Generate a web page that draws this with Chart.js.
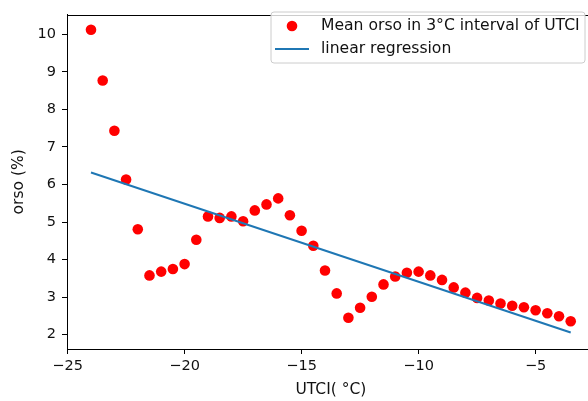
<!DOCTYPE html>
<html>
<head>
<meta charset="utf-8">
<script src="https://cdn.jsdelivr.net/npm/chart.js@4.4.1/dist/chart.umd.min.js"></script>
<style>
  html, body { margin: 0; padding: 0; background: #fff; overflow: hidden; }
  #wrap { width: 588px; height: 401px; overflow: hidden; }
  canvas { display: block; }
</style>
</head>
<body>
<div id="wrap"><canvas id="c" width="600" height="401"></canvas></div>
<script>
// UTCI bin centres (°C)
const utci = [-24, -23.5, -23, -22.5, -22, -21.5, -21, -20.5, -20, -19.5, -19, -18.5, -18, -17.5,
  -17, -16.5, -16, -15.5, -15, -14.5, -14, -13.5, -13, -12.5, -12, -11.5, -11, -10.5,
  -10, -9.5, -9, -8.5, -8, -7.5, -7, -6.5, -6, -5.5, -5, -4.5, -4, -3.5];
// Mean orso (%) in each interval
const orso = [10.12, 8.77, 7.43, 6.13, 4.81, 3.58, 3.68, 3.75, 3.88, 4.53, 5.15, 5.11, 5.15, 5.02,
  5.31, 5.47, 5.63, 5.18, 4.77, 4.37, 3.71, 3.10, 2.45, 2.72, 3.01, 3.34, 3.55, 3.65,
  3.68, 3.58, 3.46, 3.26, 3.12, 2.98, 2.91, 2.83, 2.77, 2.73, 2.65, 2.57, 2.49, 2.36];
// Linear regression endpoints
const regX = [-24, -3.5];
const regY = [6.32, 2.06];
const xTicks = [-25, -20, -15, -10, -5];
const yTicks = [2, 3, 4, 5, 6, 7, 8, 9, 10];

const FONT = "'DejaVu Sans', sans-serif";
const TXT = '#111';

const framePlugin = {
  id: 'frame',
  afterDatasetsDraw(chart) {
    const { ctx, chartArea: a } = chart;
    ctx.save();
    ctx.strokeStyle = '#000';
    ctx.lineWidth = 1;
    ctx.strokeRect(Math.round(a.left) + 0.5, Math.round(a.top) + 0.5,
                   Math.round(a.right - a.left), Math.round(a.bottom - a.top));
    ctx.restore();
  }
};

const legendPlugin = {
  id: 'mplLegend',
  afterDraw(chart) {
    const ctx = chart.ctx;
    const ds = chart.data.datasets;
    const bx = 271, by = 12, bw = 314, bh = 51, r = 3;
    ctx.save();
    ctx.beginPath();
    ctx.moveTo(bx + r, by);
    ctx.arcTo(bx + bw, by, bx + bw, by + bh, r);
    ctx.arcTo(bx + bw, by + bh, bx, by + bh, r);
    ctx.arcTo(bx, by + bh, bx, by, r);
    ctx.arcTo(bx, by, bx + bw, by, r);
    ctx.closePath();
    ctx.fillStyle = 'rgba(255,255,255,0.8)';
    ctx.fill();
    ctx.strokeStyle = '#cccccc';
    ctx.lineWidth = 1;
    ctx.stroke();

    ctx.font = '15.6px ' + FONT;
    ctx.textBaseline = 'middle';
    ctx.textAlign = 'left';
    const pts = ds.find(d => d.type === 'scatter');
    const ln = ds.find(d => d.type === 'line');
    ctx.beginPath();
    ctx.arc(292, 26, 5.3, 0, Math.PI * 2);
    ctx.fillStyle = pts.backgroundColor;
    ctx.fill();
    ctx.fillStyle = TXT;
    ctx.fillText(pts.label, 321, 26);
    ctx.beginPath();
    ctx.moveTo(275, 49);
    ctx.lineTo(309, 49);
    ctx.strokeStyle = ln.borderColor;
    ctx.lineWidth = 2;
    ctx.stroke();
    ctx.fillText(ln.label, 321, 49);
    ctx.restore();
  }
};

new Chart(document.getElementById('c'), {
  data: {
    datasets: [
      {
        type: 'line',
        label: 'linear regression',
        data: regX.map((x, i) => ({ x, y: regY[i] })),
        borderColor: '#1f77b4',
        borderWidth: 2,
        pointRadius: 0,
        fill: false,
        order: 0
      },
      {
        type: 'scatter',
        label: 'Mean orso in 3°C interval of UTCI',
        data: utci.map((x, i) => ({ x, y: orso[i] })),
        backgroundColor: '#ff0000',
        borderColor: '#ff0000',
        borderWidth: 0,
        pointRadius: 5.3,
        order: 1
      }
    ]
  },
  options: {
    responsive: false,
    animation: false,
    devicePixelRatio: 1,
    layout: { padding: { left: 0, top: 4, right: 3, bottom: 0 } },
    plugins: {
      legend: { display: false },
      tooltip: { enabled: false }
    },
    scales: {
      x: {
        type: 'linear',
        position: 'bottom',
        min: -25.025,
        max: -2.475,
        afterBuildTicks(s) { s.ticks = xTicks.map(v => ({ value: v })); },
        afterFit(s) { s.height = 52; },
        grid: { display: true, drawOnChartArea: false, drawTicks: true, tickLength: 5, color: '#000', tickWidth: 1 },
        border: { display: true, color: '#000', width: 1 },
        ticks: {
          color: TXT,
          font: { family: FONT, size: 14.5 },
          padding: 4,
          maxRotation: 0,
          callback: v => (v < 0 ? '\u2212' + Math.abs(v) : String(v))
        },
        title: {
          display: true,
          text: 'UTCI( °C)',
          color: TXT,
          font: { family: FONT, size: 15.5 },
          padding: { top: 0, bottom: 2 }
        }
      },
      y: {
        type: 'linear',
        position: 'left',
        min: 1.62,
        max: 10.52,
        afterBuildTicks(s) { s.ticks = yTicks.map(v => ({ value: v })); },
        afterFit(s) { s.width = 67; },
        grid: { display: true, drawOnChartArea: false, drawTicks: true, tickLength: 5, color: '#000', tickWidth: 1 },
        border: { display: true, color: '#000', width: 1 },
        ticks: {
          color: TXT,
          font: { family: FONT, size: 14.5 },
          padding: 6
        },
        title: {
          display: true,
          text: 'orso (%)',
          color: TXT,
          font: { family: FONT, size: 15.5 },
          padding: { top: 10, bottom: 0 }
        }
      }
    }
  },
  plugins: [framePlugin, legendPlugin]
});
</script>
</body>
</html>
